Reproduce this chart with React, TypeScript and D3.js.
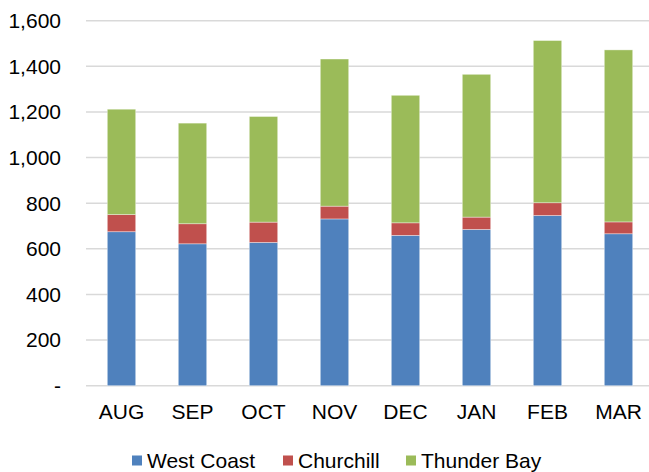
import React from "react";
import * as d3 from "d3";

const months = ["AUG", "SEP", "OCT", "NOV", "DEC", "JAN", "FEB", "MAR"];
const westCoast = [675, 622, 628, 731, 659, 685, 746, 666];
const churchill = [75, 88, 89, 56, 55, 54, 56, 52];
const thunderBay = [462, 441, 463, 645, 559, 626, 711, 754];
const seriesNames = ["West Coast", "Churchill", "Thunder Bay"];
const colors = ["#4F81BD", "#C0504D", "#9BBB59"];
const yTicks = [0, 200, 400, 600, 800, 1000, 1200, 1400, 1600];

const width = 649;
const height = 472;
const font = "'Liberation Sans', Arial, sans-serif";
const fs = 21;

export default function App() {
  const rows = months.map((m, i) => ({
    month: m,
    "West Coast": westCoast[i],
    Churchill: churchill[i],
    "Thunder Bay": thunderBay[i],
  }));
  const stacked = d3.stack<any>().keys(seriesNames)(rows);

  const x = d3.scaleBand().domain(months).range([86, 654]).paddingInner(0.6).paddingOuter(0.3);
  const y = d3.scaleLinear().domain([0, 1600]).range([385.7, 20.7]);
  const fmt = (v: number) => (v === 0 ? "-" : d3.format(",")(v));

  const legendItems = [
    { name: "West Coast", x: 132 },
    { name: "Churchill", x: 283 },
    { name: "Thunder Bay", x: 406 },
  ];

  return (
    <svg width={width} height={height} style={{ position: "absolute", left: 0, top: 0, background: "#fff" }}>
      <g>
        {yTicks.map((t) => (
          <g key={t}>
            <line x1={86} x2={649} y1={y(t)} y2={y(t)} stroke="#D9D9D9" strokeWidth={1.5} />
            <text x={61} y={y(t)} dy="0.35em" textAnchor="end" fontFamily={font} fontSize={fs} fill="#000">
              {fmt(t)}
            </text>
          </g>
        ))}
      </g>
      {stacked.map((layer, si) => (
        <g key={layer.key} fill={colors[si]}>
          {layer.map((d, i) => (
            <rect
              key={i}
              x={x(months[i])}
              y={y(d[1])}
              width={x.bandwidth()}
              height={y(d[0]) - y(d[1])}
              stroke="#fff"
              strokeOpacity={0.5}
              strokeWidth={0.75}
            />
          ))}
        </g>
      ))}
      {months.map((m) => (
        <text key={m} x={(x(m) as number) + x.bandwidth() / 2} y={418.5} textAnchor="middle" fontFamily={font} fontSize={fs} fill="#000">
          {m}
        </text>
      ))}
      {legendItems.map((l, i) => (
        <g key={l.name}>
          <rect x={l.x} y={455.5} width={10} height={10} fill={colors[i]} />
          <text x={l.x + 15} y={467.5} fontFamily={font} fontSize={fs} fill="#000">
            {l.name}
          </text>
        </g>
      ))}
    </svg>
  );
}
